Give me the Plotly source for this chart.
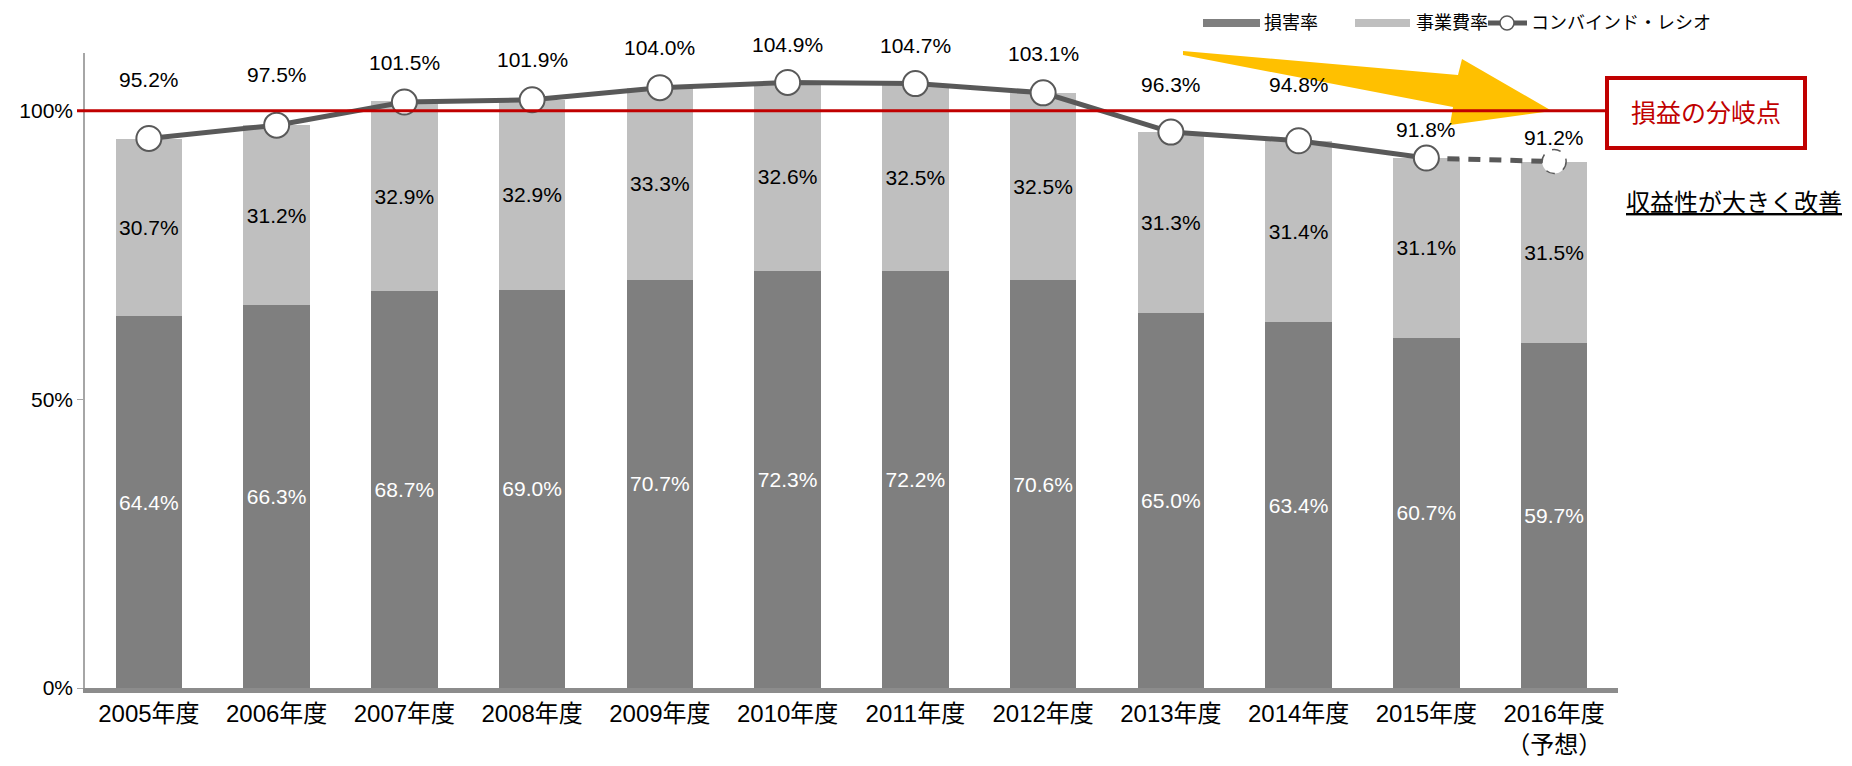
import plotly.graph_objects as go

# ---------------------------------------------------------------
# data
categories = ['2005年度', '2006年度', '2007年度', '2008年度', '2009年度', '2010年度',
              '2011年度', '2012年度', '2013年度', '2014年度', '2015年度', '2016年度']
tick_labels = categories[:-1] + ['2016年度<br>（予想）']

loss_ratio = [64.4, 66.3, 68.7, 69.0, 70.7, 72.3, 72.2, 70.6, 65.0, 63.4, 60.7, 59.7]
expense_ratio = [30.7, 31.2, 32.9, 32.9, 33.3, 32.6, 32.5, 32.5, 31.3, 31.4, 31.1, 31.5]
combined_ratio = [95.2, 97.5, 101.5, 101.9, 104.0, 104.9, 104.7, 103.1, 96.3, 94.8, 91.8, 91.2]

name_loss = '損害率'
name_expense = '事業費率'
name_combined = 'コンバインド・レシオ'
breakeven = 100
breakeven_text = '損益の分岐点'
note_text = '収益性が大きく改善'

# ---------------------------------------------------------------
# styles
FONT = 'Liberation Sans, Arial, Noto Sans CJK JP'
DARK = '#7F7F7F'
LIGHT = '#BFBFBF'
LINE = '#595959'
RED = '#C00000'
GOLD = '#FFC000'

OFF = 8                      # page body margin
W, H = 1852 - 2 * OFF, 766 - 2 * OFF
L, T = 85 - OFF, 53 - OFF    # plot area in screen px: x 85..1618, y 53..688
R = W - (1618 - OFF)
B = H - (688 - OFF)
PW = W - L - R
PH = H - T - B

# pixel offsets of the combined-ratio labels above their markers
label_shift = [59, 51, 40, 40, 40, 38, 38, 39, 48, 56, 29, 24]


def paper(x, y):
    # screen pixel -> paper coords
    return (x - OFF - L) / PW, (H - B - (y - OFF)) / PH


fig = go.Figure()

fig.add_trace(go.Bar(
    x=categories, y=loss_ratio, name=name_loss,
    marker=dict(color=DARK, line=dict(width=0)),
    text=[f'{v:.1f}%' for v in loss_ratio],
    textposition='inside', insidetextanchor='middle', constraintext='none',
    textfont=dict(color='white', size=21, family=FONT),
    showlegend=False,
))
fig.add_trace(go.Bar(
    x=categories, y=expense_ratio, name=name_expense,
    marker=dict(color=LIGHT, line=dict(width=0)),
    text=[f'{v:.1f}%' for v in expense_ratio],
    textposition='inside', insidetextanchor='middle', constraintext='none',
    textfont=dict(color='black', size=21, family=FONT),
    showlegend=False,
))
# forecast segment (dashed)
fig.add_trace(go.Scatter(
    x=categories[-2:], y=combined_ratio[-2:], mode='lines',
    line=dict(color=LINE, width=5, dash='12px,9px'),
    showlegend=False, hoverinfo='skip',
))
fig.add_trace(go.Scatter(
    x=categories[:-1], y=combined_ratio[:-1], mode='lines+markers',
    name=name_combined,
    line=dict(color=LINE, width=5),
    marker=dict(size=25, color='white', line=dict(color=LINE, width=2)),
    showlegend=False,
))

for i, v in enumerate(combined_ratio):
    fig.add_annotation(x=categories[i], y=v, text=f'{v:.1f}%', showarrow=False,
                       xanchor='center', yanchor='middle', yshift=label_shift[i],
                       font=dict(size=21, color='black', family=FONT))

shapes = []
# big yellow arrow
pts = [paper(*p) for p in [(1183, 51), (1458, 75), (1462, 59), (1552, 111),
                           (1450, 125), (1453, 107), (1183, 55)]]
path = 'M ' + ' L '.join(f'{a:.5f},{b:.5f}' for a, b in pts) + ' Z'
shapes.append(dict(type='path', xref='paper', yref='paper', path=path,
                   fillcolor=GOLD, line=dict(width=0), layer='above'))
# break-even line
shapes.append(dict(type='line', xref='paper', yref='y',
                   x0=paper(77, 0)[0], x1=paper(1607, 0)[0], y0=breakeven, y1=breakeven,
                   line=dict(color=RED, width=3), layer='above'))
# break-even box
bx0, by0 = paper(1607, 148)
bx1, by1 = paper(1805, 78)
shapes.append(dict(type='rect', xref='paper', yref='paper', x0=bx0, y0=by0, x1=bx1, y1=by1,
                   line=dict(color=RED, width=4), fillcolor='white', layer='above'))
# forecast marker with dashed outline
shapes.append(dict(type='circle', xref='x', yref='y', xsizemode='pixel', ysizemode='pixel',
                   xanchor=len(categories) - 1, yanchor=combined_ratio[-1],
                   x0=-12, x1=12, y0=-12, y1=12,
                   fillcolor='white', line=dict(color=LINE, width=1.5, dash='dash'),
                   layer='above'))

# legend (drawn by hand to get the long flat swatches)
lx0, ly0 = paper(1203, 27)
lx1, ly1 = paper(1260, 19)
shapes.append(dict(type='rect', xref='paper', yref='paper', x0=lx0, y0=ly0, x1=lx1, y1=ly1,
                   fillcolor=DARK, line=dict(width=0)))
lx0, ly0 = paper(1355, 27)
lx1, ly1 = paper(1410, 19)
shapes.append(dict(type='rect', xref='paper', yref='paper', x0=lx0, y0=ly0, x1=lx1, y1=ly1,
                   fillcolor=LIGHT, line=dict(width=0)))
lx0, ly = paper(1488, 23)
lx1, _ = paper(1527, 23)
shapes.append(dict(type='line', xref='paper', yref='paper', x0=lx0, x1=lx1, y0=ly, y1=ly,
                   line=dict(color=LINE, width=5)))
cx, cy = paper(1507, 23)
shapes.append(dict(type='circle', xref='paper', yref='paper', xsizemode='pixel', ysizemode='pixel',
                   xanchor=cx, yanchor=cy, x0=-7, x1=7, y0=-7, y1=7,
                   fillcolor='white', line=dict(color=LINE, width=1.5)))

for txt, xpix in [(name_loss, 1262), (name_expense, 1414), (name_combined, 1529)]:
    ax, ay = paper(xpix, 23)
    fig.add_annotation(xref='paper', yref='paper', x=ax, y=ay, text=txt, showarrow=False,
                       xanchor='left', yanchor='middle', font=dict(size=18, color='black', family=FONT))

tx, ty = paper(1706, 113)
fig.add_annotation(xref='paper', yref='paper', x=tx, y=ty, text=breakeven_text, showarrow=False,
                   xanchor='center', yanchor='middle', font=dict(size=25, color=RED, family=FONT))
tx, ty = paper(1734, 202)
fig.add_annotation(xref='paper', yref='paper', x=tx, y=ty, text=f'<u>{note_text}</u>',
                   showarrow=False, xanchor='center', yanchor='middle',
                   font=dict(size=24, color='black', family=FONT))

fig.update_layout(
    width=W, height=H,
    margin=dict(l=L, r=R, t=T, b=B, pad=0),
    barmode='stack', bargap=0.48,
    plot_bgcolor='white', paper_bgcolor='white',
    font=dict(family=FONT, color='black'),
    shapes=shapes,
    xaxis=dict(
        tickvals=categories, ticktext=tick_labels, range=[-0.5, len(categories) - 0.5],
        showline=True, linecolor='#8C8C8C', linewidth=5,
        ticks='', showgrid=False, zeroline=False, automargin=False,
        tickfont=dict(size=24, color='black', family=FONT),
    ),
    yaxis=dict(
        range=[0, 110], tickvals=[0, 50, 100], ticktext=['0%', '50%', '100%'],
        showline=True, linecolor='#A6A6A6', linewidth=1.5,
        ticks='outside', ticklen=6, tickcolor='#A6A6A6',
        showgrid=False, zeroline=False, automargin=False,
        tickfont=dict(size=21, color='black', family=FONT),
    ),
)

fig.write_html('out.html')
